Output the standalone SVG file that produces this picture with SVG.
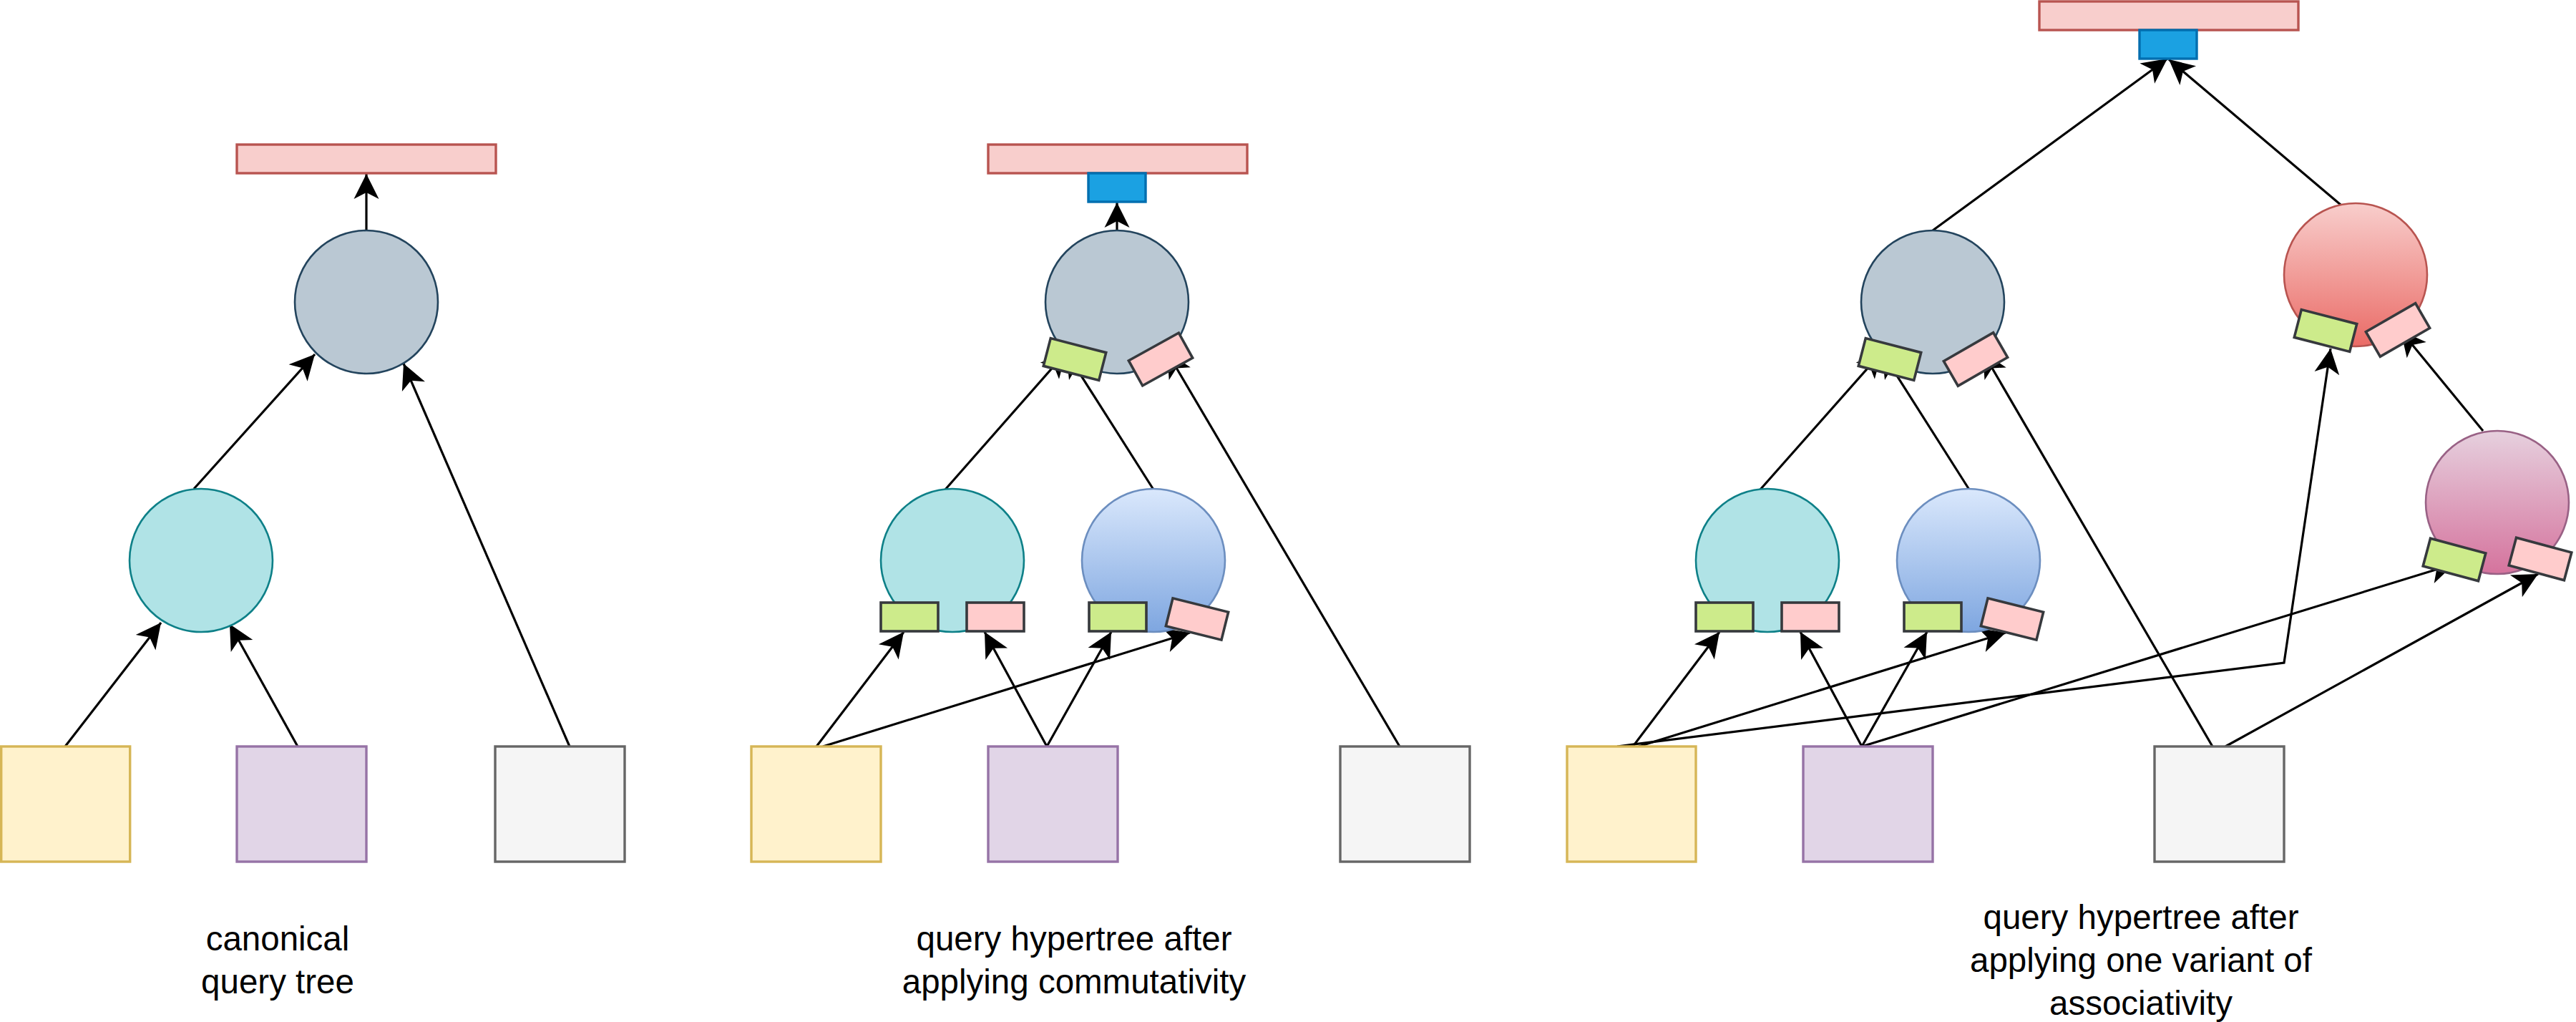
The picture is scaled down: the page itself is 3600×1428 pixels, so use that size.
<svg xmlns="http://www.w3.org/2000/svg" width="3600" height="1428" viewBox="0 0 3600 1428">
<style>
.e{fill:none;stroke:#000;stroke-width:3.2;marker-end:url(#arr)}
.bar{fill:#f8cecc;stroke:#b85450;stroke-width:3.4}
.out{fill:#1ba1e2;stroke:#006eaf;stroke-width:3.4}
.grey{fill:#bac8d3;stroke:#23445d;stroke-width:2.6}
.teal{fill:#b0e3e6;stroke:#0e8088;stroke-width:2.6}
.blue{fill:url(#gBlue);stroke:#6c8ebf;stroke-width:2.6}
.red{fill:url(#gRed);stroke:#b85450;stroke-width:2.6}
.mag{fill:url(#gMag);stroke:#996185;stroke-width:2.6}
.yel{fill:#fff2cc;stroke:#d6b656;stroke-width:3.4}
.pur{fill:#e1d5e7;stroke:#9673a6;stroke-width:3.4}
.gsq{fill:#f5f5f5;stroke:#666666;stroke-width:3.4}
.pg{fill:#cdeb8b;stroke:#36393d;stroke-width:3.6}
.pp{fill:#ffcccc;stroke:#36393d;stroke-width:3.6}
.t{font-family:"Liberation Sans",Arial,sans-serif;font-size:47.5px;fill:#000;text-anchor:middle}
</style>
<defs>
<linearGradient id="gBlue" x1="0" y1="0" x2="0" y2="1"><stop offset="0" stop-color="#dae8fc"/><stop offset="1" stop-color="#7ea6e0"/></linearGradient>
<linearGradient id="gRed" x1="0" y1="0" x2="0" y2="1"><stop offset="0" stop-color="#f8cecc"/><stop offset="1" stop-color="#ea6b66"/></linearGradient>
<linearGradient id="gMag" x1="0" y1="0" x2="0" y2="1"><stop offset="0" stop-color="#e6d0de"/><stop offset="1" stop-color="#d5739d"/></linearGradient>
<marker id="arr" markerUnits="userSpaceOnUse" viewBox="-36 -18 37 36" markerWidth="37" markerHeight="36" refX="0" refY="0" orient="auto">
<path d="M0,0 L-35,-17.5 L-26,0 L-35,17.5 Z" fill="#000"/>
</marker>
</defs>

<g id="connectors">
<!-- panel 1 -->
<path class="e" d="M512,322 L512,243"/>
<path class="e" d="M271,683 L440,495"/>
<path class="e" d="M91,1043 L225,870"/>
<path class="e" d="M416,1043 L321,872"/>
<path class="e" d="M796,1043 L564,508"/>
<!-- panel 2 -->
<path class="e" d="M1561,322 L1561,283"/>
<path class="e" d="M1321,684 L1490,492"/>
<path class="e" d="M1612,684 L1490,492"/>
<path class="e" d="M1956,1043 L1631,492"/>
<path class="e" d="M1141,1043 L1263,883"/>
<path class="e" d="M1150,1043 L1663,884"/>
<path class="e" d="M1463,1043 L1376,883"/>
<path class="e" d="M1463,1043 L1553,883"/>
<!-- panel 3 -->
<path class="e" d="M2701,322 L3029,82"/>
<path class="e" d="M3271,286 L3031,83"/>
<path class="e" d="M2460,684 L2630,492"/>
<path class="e" d="M2752,684 L2630,492"/>
<path class="e" d="M3092,1043 L2771,492"/>
<path class="e" d="M2282,1043 L2403,883"/>
<path class="e" d="M2290,1043 L2803,884"/>
<path class="e" d="M2260,1043 L3192,926 L3257,487"/>
<path class="e" d="M2602,1043 L2516,883"/>
<path class="e" d="M2602,1043 L2693,883"/>
<path class="e" d="M2602,1043 L3430,788"/>
<path class="e" d="M3110,1043 L3547,802"/>
<path class="e" d="M3470,602 L3355,462"/>
</g>

<!-- panel 1 nodes -->
<g id="p1-result"><rect class="bar" x="331" y="202" width="362" height="40"/></g>
<g id="p1-join-top"><circle class="grey" cx="512" cy="422" r="100"/></g>
<g id="p1-join-low"><circle class="teal" cx="281" cy="783" r="100"/></g>
<g id="p1-rel-a"><rect class="yel" x="1.7" y="1043" width="180" height="161"/></g>
<g id="p1-rel-b"><rect class="pur" x="331" y="1043" width="181" height="161"/></g>
<g id="p1-rel-c"><rect class="gsq" x="692" y="1043" width="181" height="161"/></g>
<g id="p1-label"><text class="t" x="388" y="1328">canonical</text><text class="t" x="388" y="1388">query tree</text></g>

<!-- panel 2 nodes -->
<g id="p2-result"><rect class="bar" x="1381" y="202" width="362" height="40"/><rect class="out" x="1521" y="242" width="80" height="40"/></g>
<g id="p2-join-top"><circle class="grey" cx="1561" cy="422" r="100"/>
<rect class="pg" x="1462" y="482" width="80" height="40" transform="rotate(14.5 1502 502)"/>
<rect class="pp" x="1582" y="482" width="80" height="40" transform="rotate(-29 1622 502)"/></g>
<g id="p2-join-a"><circle class="teal" cx="1331" cy="783" r="100"/>
<rect class="pg" x="1231" y="842" width="80" height="40"/>
<rect class="pp" x="1351" y="842" width="80" height="40"/></g>
<g id="p2-join-b"><circle class="blue" cx="1612" cy="783" r="100"/>
<rect class="pg" x="1522" y="842" width="80" height="40"/>
<rect class="pp" x="1633" y="845" width="80" height="40" transform="rotate(14 1673 865)"/></g>
<g id="p2-rel-a"><rect class="yel" x="1050" y="1043" width="181" height="161"/></g>
<g id="p2-rel-b"><rect class="pur" x="1381" y="1043" width="181" height="161"/></g>
<g id="p2-rel-c"><rect class="gsq" x="1873" y="1043" width="181" height="161"/></g>
<g id="p2-label"><text class="t" x="1501" y="1328">query hypertree after</text><text class="t" x="1501" y="1388">applying commutativity</text></g>

<!-- panel 3 nodes -->
<g id="p3-result"><rect class="bar" x="2850" y="2" width="362" height="40"/><rect class="out" x="2990" y="42" width="80" height="40"/></g>
<g id="p3-join-grey"><circle class="grey" cx="2701" cy="422" r="100"/>
<rect class="pg" x="2601" y="482" width="80" height="40" transform="rotate(14.5 2641 502)"/>
<rect class="pp" x="2721" y="482" width="80" height="40" transform="rotate(-30 2761 502)"/></g>
<g id="p3-join-red"><circle class="red" cx="3292" cy="384" r="100"/>
<rect class="pg" x="3210" y="442" width="80" height="40" transform="rotate(14.5 3250 462)"/>
<rect class="pp" x="3311" y="441" width="80" height="40" transform="rotate(-30 3351 461)"/></g>
<g id="p3-join-teal"><circle class="teal" cx="2470" cy="783" r="100"/>
<rect class="pg" x="2370" y="842" width="80" height="40"/>
<rect class="pp" x="2490" y="842" width="80" height="40"/></g>
<g id="p3-join-blue"><circle class="blue" cx="2751" cy="783" r="100"/>
<rect class="pg" x="2661" y="842" width="80" height="40"/>
<rect class="pp" x="2772" y="845" width="80" height="40" transform="rotate(14 2812 865)"/></g>
<g id="p3-join-mag"><circle class="mag" cx="3490" cy="702" r="100"/>
<rect class="pg" x="3390" y="762" width="80" height="40" transform="rotate(15 3430 782)"/>
<rect class="pp" x="3510" y="761" width="80" height="40" transform="rotate(15 3550 781)"/></g>
<g id="p3-rel-a"><rect class="yel" x="2190" y="1043" width="180" height="161"/></g>
<g id="p3-rel-b"><rect class="pur" x="2520" y="1043" width="181" height="161"/></g>
<g id="p3-rel-c"><rect class="gsq" x="3011" y="1043" width="181" height="161"/></g>
<g id="p3-label"><text class="t" x="2992" y="1298">query hypertree after</text><text class="t" x="2992" y="1358">applying one variant of</text><text class="t" x="2992" y="1418">associativity</text></g>
</svg>
